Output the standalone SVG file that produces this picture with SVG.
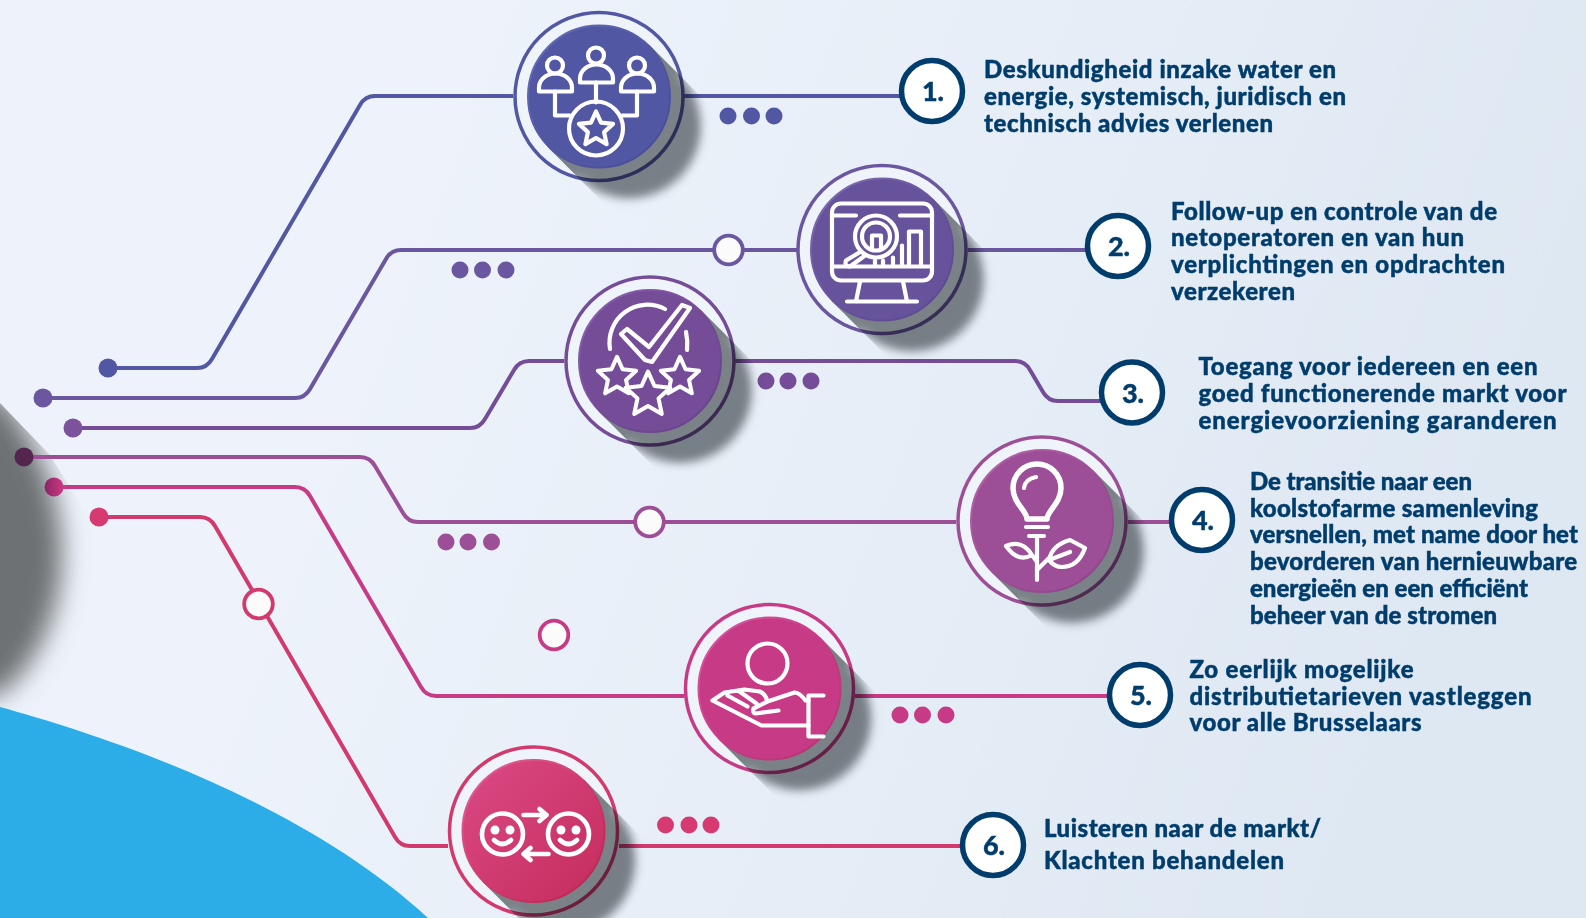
<svg xmlns="http://www.w3.org/2000/svg" width="1586" height="918" viewBox="0 0 1586 918">
<style>
.t{font-family:"Lato","Open Sans","Liberation Sans",sans-serif;font-weight:900;font-size:24px;fill:#003d6c;stroke:#003d6c;stroke-width:.45}
.n{font-family:"Lato","Open Sans","Liberation Sans",sans-serif;font-weight:900;font-size:27px;fill:#003d6c;stroke:#003d6c;stroke-width:.4;text-anchor:middle}
.num{fill:#fff;stroke:#003d6c;stroke-width:5.5}
.c{fill:none;stroke-width:4}
.sh{mix-blend-mode:multiply}
.i{fill:none;stroke:#fff;stroke-width:4.2;stroke-linejoin:round;stroke-linecap:round}
.ring{fill:#eef4f9;stroke-width:3.5}
.o{fill:#fbfbfc;stroke-width:3.8}
.c1{stroke:#5157a3}.c2{stroke:#6a579f}.c3{stroke:#744c97}.c4{stroke:#9c4f96}.c5{stroke:#c73a85}.c6{stroke:#d23a6e}
.f1{fill:#5157a3}.f2{fill:#6a579f}.f3{fill:#744c97}.f4{fill:#9c4f96}.f5{fill:#c73a85}.f6{fill:#d63a71}
</style>
<defs>
<linearGradient id="bg" gradientUnits="userSpaceOnUse" x1="400" y1="100" x2="1500" y2="520"><stop offset="0" stop-color="#eef3fb"/><stop offset="1" stop-color="#dee8f2"/></linearGradient>
<linearGradient id="e1" x1="0" y1="0" x2="1" y2="1"><stop offset="0" stop-color="#6a70b8"/><stop offset=".5" stop-color="#5157a3"/><stop offset="1" stop-color="#474c96"/></linearGradient>
<linearGradient id="e2" x1="0" y1="0" x2="1" y2="1"><stop offset="0" stop-color="#8270b4"/><stop offset=".5" stop-color="#67539c"/><stop offset="1" stop-color="#5b4790"/></linearGradient>
<linearGradient id="e3" x1="0" y1="0" x2="1" y2="1"><stop offset="0" stop-color="#9063b0"/><stop offset=".5" stop-color="#744c97"/><stop offset="1" stop-color="#67408a"/></linearGradient>
<linearGradient id="e4" x1="0" y1="0" x2="1" y2="1"><stop offset="0" stop-color="#bb68b0"/><stop offset=".5" stop-color="#9c4f96"/><stop offset="1" stop-color="#8d4287"/></linearGradient>
<linearGradient id="e5" x1="0" y1="0" x2="1" y2="1"><stop offset="0" stop-color="#dd5aa5"/><stop offset=".5" stop-color="#c73d86"/><stop offset="1" stop-color="#b82f72"/></linearGradient>
<linearGradient id="f6g" x1="0" y1="0" x2="1" y2="1"><stop offset="0" stop-color="#db4a85"/><stop offset="1" stop-color="#c42c5c"/></linearGradient>
<linearGradient id="e6" x1="0" y1="0" x2="1" y2="1"><stop offset="0" stop-color="#e566a0"/><stop offset=".5" stop-color="#d03a70"/><stop offset="1" stop-color="#b92248"/></linearGradient>
<linearGradient id="d5" x1="0" y1="0" x2="1" y2="0"><stop offset="0" stop-color="#8c2566"/><stop offset="1" stop-color="#cb3a82"/></linearGradient>
<filter id="b5" x="-30%" y="-30%" width="160%" height="160%"><feGaussianBlur stdDeviation="5"/></filter>
<filter id="b12" x="-60%" y="-30%" width="220%" height="160%"><feGaussianBlur stdDeviation="13"/></filter>
<clipPath id="shClip"><rect x="0" y="-72" width="170" height="144"/></clipPath>
<clipPath id="bigClip"><path d="M0 403 L50 455 L140 600 L140 760 L0 760Z"/></clipPath>
<g id="sh"><g clip-path="url(#shClip)"><path filter="url(#b5)" fill="#83878a" d="M-40-95H42V-72A72 72 0 0 1 42 72V95H-40Z"/></g></g>
<path id="star" d="M0-18L5-6.9 17.1-5.6 8.1 2.6 10.6 14.6 0 8.5-10.6 14.6-8.1 2.6-17.1-5.6-5-6.9Z"/>
</defs>
<rect width="1586" height="918" fill="url(#bg)"/>
<g id="backdrop">
<g clip-path="url(#bigClip)"><path filter="url(#b12)" fill="#6d7173" d="M-60 395H0C42 445 62 500 62 555C62 610 38 665 0 695H-60Z"/></g>
<path fill="#2cade8" d="M0 707C105 736 300 800 428 918H0Z"/>
</g>
<g id="connectors">
<path class="c c1" d="M108 368H197Q207 368 212 359L360 105Q365 96 375 96H513M683 96H905"/>
<path class="c c2" d="M43 398H295Q305 398 310 389L386 259Q391 250 401 250H797M968 250H1090"/>
<path class="c c3" d="M73 428H470Q480 428 485 419L514 370Q519 361 529 361H564M735 361H1015Q1025 361 1030 370L1043 392Q1048 401 1058 401H1105"/>
<path class="c c4" d="M24 457H360Q370 457 375 466L403 513Q408 522 418 522H956M1128 522H1175"/>
<path class="c c5" d="M54 487H295Q305 487 310 496L421 687Q426 696 436 696H684M855 696H1110"/>
<path class="c c6" d="M99 517H200Q210 517 215 526L395 837Q400 846 410 846H448M619 846H965"/>
</g>
<g id="terminals">
<circle cx="108" cy="368" r="9.5" class="f1"/>
<circle cx="43" cy="398" r="9.5" class="f2"/>
<circle cx="73" cy="428" r="9.5" fill="#7b529b"/>
<circle cx="24" cy="457" r="9.5" fill="#54264f"/>
<circle cx="54" cy="487" r="9.5" fill="url(#d5)"/>
<circle cx="99" cy="517" r="9.5" class="f6"/>
<circle cx="728.5" cy="250" r="14.3" class="o c2"/>
<circle cx="649.5" cy="522" r="14.3" class="o c4"/>
<circle cx="258.5" cy="604" r="14.3" class="o c6"/>
<circle cx="554" cy="635" r="14.3" class="o c5"/>
</g>
<g id="dots">
<g class="f1"><circle cx="728" cy="116" r="8.5"/><circle cx="751.5" cy="116" r="8.5"/><circle cx="774" cy="116" r="8.5"/></g>
<g class="f2"><circle cx="460" cy="270" r="8.5"/><circle cx="482.5" cy="270" r="8.5"/><circle cx="506" cy="270" r="8.5"/></g>
<g class="f3"><circle cx="766" cy="381" r="8.5"/><circle cx="788" cy="381" r="8.5"/><circle cx="811" cy="381" r="8.5"/></g>
<g class="f4"><circle cx="446" cy="542" r="8.5"/><circle cx="468" cy="542" r="8.5"/><circle cx="491.5" cy="542" r="8.5"/></g>
<g class="f5"><circle cx="900" cy="715" r="8.5"/><circle cx="922.5" cy="715" r="8.5"/><circle cx="946" cy="715" r="8.5"/></g>
<g class="f6"><circle cx="665.5" cy="825" r="8.5"/><circle cx="689" cy="825" r="8.5"/><circle cx="711" cy="825" r="8.5"/></g>
</g>
<g id="node1" transform="translate(599 96.5)">
<circle r="84" class="ring c1"/>
<use href="#sh" class="sh" transform="rotate(45)"/>
<circle r="71" class="f1" stroke="url(#e1)" stroke-width="2"/>
<g class="i">
<circle cx="-3" cy="-41" r="8"/><path d="M-19-14V-18A16.5 14 0 0 1 14-18V-14Z"/>
<circle cx="-44" cy="-31" r="8"/><path d="M-60-5V-9A16.5 14 0 0 1-27-9V-5Z"/>
<circle cx="38" cy="-31" r="8"/><path d="M22-5V-9A16.5 14 0 0 1 55-9V-5Z"/>
<path d="M-3-14V6M-44-5V19H-29M38-5V19H23"/>
<circle cx="-3" cy="32" r="27"/>
<use href="#star" transform="translate(-3 33)"/>
</g>
</g>
<g id="node2" transform="translate(882 249.5)">
<circle r="84" class="ring c2"/>
<use href="#sh" class="sh" transform="rotate(45)"/>
<circle r="71" fill="#67539c" stroke="url(#e2)" stroke-width="2"/>
<g class="i">
<rect x="-50" y="-46" width="100" height="77" rx="9"/>
<path d="M-50 17H50M-50-34H-26M18-34H50M-22 32L-26 52M21 32L25 52M-35 52H35"/>
<circle cx="-6" cy="-13" r="21"/><circle cx="-6" cy="-13" r="14"/>
<path d="M-21 2L-36 11Q-38 17-32 17L-17 6"/>
<path d="M27 16V-18H39V16M20 16V-4M11 16V8M1 16V11M-7 16V11M-10-1V-14H-1V-1"/>
</g>
</g>
<g id="node3" transform="translate(650 361)">
<circle r="84" class="ring c3"/>
<use href="#sh" class="sh" transform="rotate(45)"/>
<circle r="71" class="f3" stroke="url(#e3)" stroke-width="2"/>
<g class="i">
<path d="M-40-12A38 38 0 0 1 15-52M36-29Q38-20 37-11"/>
<path d="M-29-27L-23-32-1-14 32-56 40-53 2 1-5-1Z"/>
<use href="#star" transform="translate(-33 16) scale(1.12)" fill="#744c97" stroke-width="3.6"/>
<use href="#star" transform="translate(30 16) scale(1.12)" fill="#744c97" stroke-width="3.6"/>
<use href="#star" transform="translate(-2 34) scale(1.3)" fill="#744c97" stroke-width="3.1"/>
</g>
</g>
<g id="node4" transform="translate(1042 521)">
<circle r="84" class="ring c4"/>
<use href="#sh" class="sh" transform="rotate(45)"/>
<circle r="71" class="f4" stroke="url(#e4)" stroke-width="2"/>
<g class="i">
<path stroke-width="5.5" d="M-15-2C-15-10-29-18-29-33A24 24 0 1 1 19-33C19-18 5-10 5-2Z"/>
<path d="M-18-33Q-17-42-6-44M-16 6H6M-13 15H2M-5 15V59M-5 49L8 36M-10 34L-5 41M-36 25Q-20 18-10 34Q-24 42-36 25ZM7 39Q10 24 28 19L43 27Q36 46 20 46Q12 46 7 39ZM7 39L28 31"/>
</g>
</g>
<g id="node5" transform="translate(769.5 688.5)">
<circle r="84" class="ring c5"/>
<use href="#sh" class="sh" transform="rotate(45)"/>
<circle r="71" class="f5" stroke="url(#e5)" stroke-width="2"/>
<g class="i">
<circle cx="-2" cy="-25" r="20"/>
<path d="M54 7H39V48H54"/>
<path d="M39 12H36Q30 4 25 4L-2 13Q-4 5-10 3L-25 1-45 4-57 12-8 37H39M-2 13L-16 20Q-17 25-14 25L9 22M-30 3L-13 15M-42 7L-22 18"/>
</g>
</g>
<g id="node6" transform="translate(533.5 831)">
<circle r="84" class="ring c6"/>
<use href="#sh" class="sh" transform="rotate(45)"/>
<circle r="71" fill="url(#f6g)" stroke="url(#e6)" stroke-width="2"/>
<g class="i" style="stroke-width:4.6">
<circle cx="-31" cy="3" r="20.5"/><circle cx="35" cy="3" r="20.5"/>
<path d="M-39.5 9Q-31 17-22.5 9M26.5 9Q35 17 43.5 9M-10-16H13M6-22L13-16 6-10M15 23H-10M-3 17L-10 23-3 29"/>
</g>
<g fill="#fff"><circle cx="-38.5" cy="-1" r="4.5"/><circle cx="-23.5" cy="-1" r="4.5"/><circle cx="27.5" cy="-1" r="4.5"/><circle cx="42.5" cy="-1" r="4.5"/></g>
</g>
<g id="label1">
<circle cx="932" cy="91" r="30.5" class="num"/><text class="n" x="933" y="101">1.</text>
<text class="t" x="984" y="78" textLength="352">Deskundigheid inzake water en</text>
<text class="t" x="984" y="105" textLength="362">energie, systemisch, juridisch en</text>
<text class="t" x="984" y="132" textLength="289">technisch advies verlenen</text>
</g>
<g id="label2">
<circle cx="1118" cy="246" r="30.5" class="num"/><text class="n" x="1119" y="256">2.</text>
<text class="t" x="1171" y="220" textLength="326">Follow-up en controle van de</text>
<text class="t" x="1171" y="246" textLength="293">netoperatoren en van hun</text>
<text class="t" x="1171" y="273" textLength="334">verplichtingen en opdrachten</text>
<text class="t" x="1171" y="300" textLength="124">verzekeren</text>
</g>
<g id="label3">
<circle cx="1132" cy="392.5" r="30.5" class="num"/><text class="n" x="1133" y="403">3.</text>
<text class="t" x="1198.5" y="374.5" textLength="339">Toegang voor iedereen en een</text>
<text class="t" x="1198.5" y="401.5" textLength="368">goed functionerende markt voor</text>
<text class="t" x="1198.5" y="429" textLength="358">energievoorziening garanderen</text>
</g>
<g id="label4">
<circle cx="1202" cy="520" r="30.5" class="num"/><text class="n" x="1203" y="530">4.</text>
<text class="t" x="1250" y="490" textLength="222">De transitie naar een</text>
<text class="t" x="1250" y="517" textLength="288">koolstofarme samenleving</text>
<text class="t" x="1250" y="543" textLength="328">versnellen, met name door het</text>
<text class="t" x="1250" y="570" textLength="327">bevorderen van hernieuwbare</text>
<text class="t" x="1250" y="597" textLength="278">energieën en een efficiënt</text>
<text class="t" x="1250" y="624" textLength="247">beheer van de stromen</text>
</g>
<g id="label5">
<circle cx="1140" cy="695" r="30.5" class="num"/><text class="n" x="1141" y="705">5.</text>
<text class="t" x="1189.5" y="678" textLength="224">Zo eerlijk mogelijke</text>
<text class="t" x="1189.5" y="705" textLength="342">distributietarieven vastleggen</text>
<text class="t" x="1189.5" y="731" textLength="232">voor alle Brusselaars</text>
</g>
<g id="label6">
<circle cx="993" cy="845" r="30.5" class="num"/><text class="n" x="994" y="855">6.</text>
<text class="t" x="1044" y="837" textLength="277">Luisteren naar de markt/</text>
<text class="t" x="1044" y="869" textLength="240">Klachten behandelen</text>
</g>
</svg>
